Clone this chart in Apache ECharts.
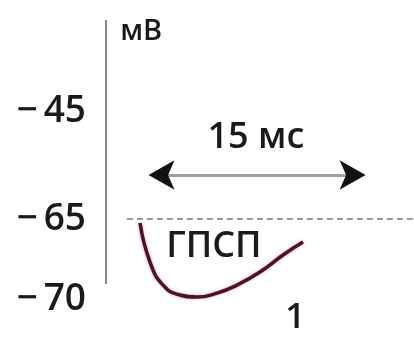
<!DOCTYPE html>
<html><head><meta charset="utf-8">
<script src="https://cdn.jsdelivr.net/npm/echarts@6/dist/echarts.min.js"></script>
<style>html,body{margin:0;padding:0;background:#fff}#c{width:414px;height:337px}</style>
</head><body><div id="c"></div>
<script>
// time (ms) and membrane potential (mV) of the IPSP trace
const timeMs = [2.32, 3.0, 3.89, 5.04, 6.2, 7.57, 8.93, 10.5, 12.07, 13.43];
const potentialMv = [-65.25, -67.69, -69.13, -69.75, -69.88, -69.63, -69.13, -68.31, -67.25, -66.44];
const tickValuesMv = [-45, -65, -70];
const tickLabels = ['\u2212\u200945', '\u2212\u200965', '\u2212\u200970'];
const restingMv = -65;
const unitLabel = 'мВ';
const spanLabel = '15 мс';
const traceLabel = 'ГПСП';
const panelLabel = '1';
const spanMs = [2.8, 17.8];

// schematic (broken) voltage axis: above -65 mV the scale is compressed
const COMPRESS = 0.3375;
function toU(v){ return v <= restingMv ? v : restingMv + (v - restingMv) * COMPRESS; }
function fromU(u){ return u <= restingMv ? u : restingMv + (u - restingMv) / COMPRESS; }

const yMax = -52.56, yMin = -71.5, xMax = 21;
const txt = {fontFamily: 'Open Sans', color: '#1a1a1a', fontWeight: 600};

function textPoint(x, yU, text, size){
  return {type:'scatter', symbolSize:0, silent:true, z:5,
    itemStyle:{opacity:1},
    data:[[x, yU]],
    label:{show:true, position:'inside', formatter:text, fontSize:size, opacity:1, ...txt}};
}

const chart = echarts.init(document.getElementById('c'));
chart.setOption({
  animation:false,
  grid:{left:106, right:0, top:20, bottom:14},
  xAxis:{type:'value', min:0, max:xMax, show:false},
  yAxis:{type:'value', min:yMin, max:yMax,
    axisLine:{show:false}, axisTick:{show:false}, splitLine:{show:false},
    axisLabel:{customValues: tickValuesMv.map(toU), margin:20, fontSize:37, ...txt,
      formatter: function(u){ const v = Math.round(fromU(u)); return tickLabels[tickValuesMv.indexOf(v)]; }}
  },
  series:[
    {type:'line', silent:true, symbol:'none', data:[[0, yMax],[0, -69.06]],
      lineStyle:{color:'#8c8c8c', width:2}},
    {type:'line', smooth:true, symbol:'none', z:4,
      data: timeMs.map((t,i)=>[t, toU(potentialMv[i])]),
      lineStyle:{color:'#4a1428', width:3.5, shadowColor:'rgba(210,50,90,0.55)', shadowBlur:3},
      markLine:{silent:true, symbol:'none', label:{show:false},
        data:[
          [{coord:[1.43, toU(restingMv)], lineStyle:{color:'#9a9a9a', width:2, type:[6,4]}}, {coord:[xMax, toU(restingMv)]}],
          [{coord:[spanMs[0]+0.5, toU(-56.85)], lineStyle:{color:'#a0a0a0', width:3, type:'solid'}}, {coord:[spanMs[1]-0.5, toU(-56.85)]}]
        ]}
    },
    {type:'scatter', silent:true, z:6, symbol:'arrow', symbolSize:[22,26],
      itemStyle:{color:'#111', opacity:1},
      data:[{value:[spanMs[0]+0.1, toU(-56.85)], symbolRotate:90},
            {value:[spanMs[1]-0.1, toU(-56.85)], symbolRotate:-90}]},
    textPoint(2.4, -53.3, unitLabel, 29),
    textPoint(10.22, toU(-50.0), spanLabel, 36),
    textPoint(7.36, -66.75, traceLabel, 36),
    textPoint(12.9, -71.2, panelLabel, 35)
  ]
});
</script></body></html>
